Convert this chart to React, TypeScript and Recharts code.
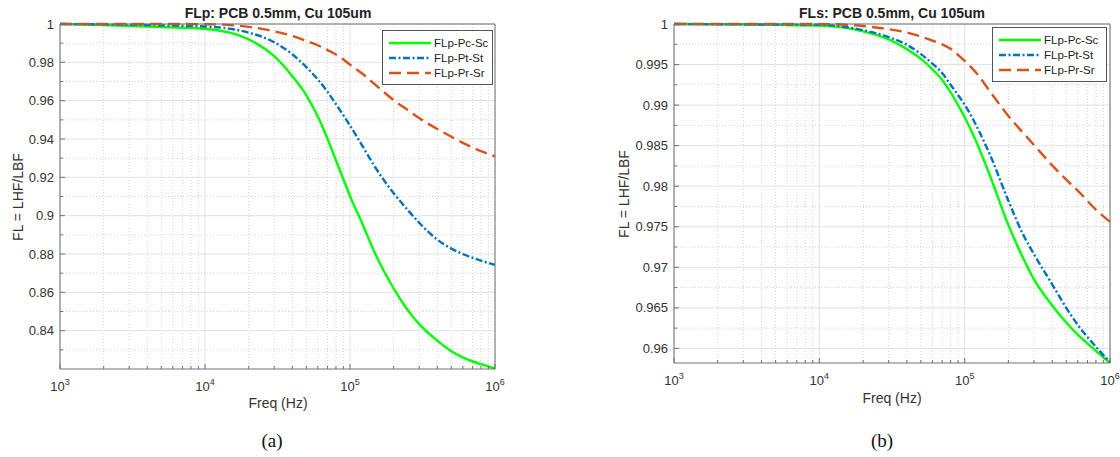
import React from "react";
import { LineChart, Line, XAxis, YAxis, CartesianGrid, Legend } from "recharts";

// frequency grid (Hz), shared by both panels
const FREQ = [
  1e3, 2e3, 5e3, 1e4, 2e4, 3e4, 4e4, 5e4, 6e4, 7e4, 8e4, 9e4, 1e5, 1.2e5, 1.5e5, 2e5, 2.5e5, 3e5, 4e5,
  5e5, 6e5, 8e5, 1e6,
];

// panel (a) FLp
const A_PC_SC = [
  1.0, 0.9994, 0.9984, 0.9975, 0.992, 0.9832, 0.9728, 0.9628, 0.9517, 0.94, 0.9289, 0.919, 0.9102,
  0.8968, 0.8797, 0.862, 0.8508, 0.8434, 0.8348, 0.8293, 0.8261, 0.8225, 0.8203,
];
const A_PT_ST = [
  1.0, 0.9998, 0.9993, 0.9987, 0.9955, 0.9905, 0.9842, 0.9775, 0.971, 0.9646, 0.9582, 0.9524, 0.947,
  0.9372, 0.925, 0.9117, 0.903, 0.8963, 0.8875, 0.8828, 0.88, 0.8765, 0.8743,
];
const A_PR_SR = [
  1.0, 1.0, 1.0, 0.9999, 0.9985, 0.9962, 0.9938, 0.9912, 0.9889, 0.9864, 0.9841, 0.9815, 0.9788,
  0.9744, 0.9682, 0.9603, 0.9551, 0.9509, 0.9452, 0.9412, 0.938, 0.9337, 0.931,
];

// panel (b) FLs
const B_PC_SC = [
  1.0, 0.99997, 0.9999, 0.9998, 0.9991, 0.9981, 0.9969, 0.9957, 0.9944, 0.9931, 0.9916, 0.99, 0.9885,
  0.9855, 0.9812, 0.9752, 0.9713, 0.9685, 0.9653, 0.9632, 0.9617, 0.9597, 0.9582,
];
const B_PT_ST = [
  1.0, 0.99997, 0.99993, 0.9999, 0.99924, 0.99838, 0.99744, 0.99629, 0.99511, 0.99395, 0.99251,
  0.99125, 0.99005, 0.9875, 0.9838, 0.9782, 0.9742, 0.9716, 0.9679, 0.965, 0.9629, 0.9602, 0.9583,
];
const B_PR_SR = [
  1.0, 1.0, 1.0, 1.0, 0.99975, 0.99936, 0.99896, 0.99845, 0.99795, 0.99748, 0.99695, 0.99618, 0.99545,
  0.99398, 0.99164, 0.98865, 0.98666, 0.98508, 0.98257, 0.98081, 0.97945, 0.97711, 0.9756,
];

// ticks
const X_MAJOR = [1e3, 1e4, 1e5, 1e6];
const X_MINOR = [1e3, 1e4, 1e5].flatMap((d) => [2, 3, 4, 5, 6, 7, 8, 9].map((m) => m * d));
const X_ALL = [...X_MAJOR, ...X_MINOR].sort((a, b) => a - b);

const A_Y_MAJOR = [0.84, 0.86, 0.88, 0.9, 0.92, 0.94, 0.96, 0.98, 1];
const A_Y_MINOR = [0.83, 0.85, 0.87, 0.89, 0.91, 0.93, 0.95, 0.97, 0.99];
const B_Y_MAJOR = [0.96, 0.965, 0.97, 0.975, 0.98, 0.985, 0.99, 0.995, 1];
const B_Y_MINOR = [0.9625, 0.9675, 0.9725, 0.9775, 0.9825, 0.9875, 0.9925, 0.9975];

const SERIES = [
  { key: "pc", name: "FLp-Pc-Sc", color: "#00ff00", dash: undefined as string | undefined },
  { key: "pt", name: "FLp-Pt-St", color: "#0072bd", dash: "7 2.5 2 2.5" },
  { key: "pr", name: "FLp-Pr-Sr", color: "#d95319", dash: "12 6" },
];

const FONT = '"Liberation Sans", Arial, Helvetica, sans-serif';
const TEXT = "#333";
const AXIS = "#707070";
const LINE_W = 2.4;

const rows = (pc: number[], pt: number[], pr: number[]) =>
  FREQ.map((f, i) => ({ f, pc: pc[i], pt: pt[i], pr: pr[i] }));

const isIn = (arr: number[], v: number) => arr.some((a) => Math.abs(a - v) < 1e-9);

// inward MATLAB-style tick marks (axes have tickSize 0 and tickMargin 0, so x/y sit on the axis line)
function BottomTick(p: any) {
  const major = isIn(X_MAJOR, p.payload.value);
  return (
    <g>
      <line x1={p.x} x2={p.x} y1={p.y} y2={p.y - (major ? 5 : 3)} stroke={AXIS} />
      {major && (
        <text x={p.x} y={p.y + 22} textAnchor="middle" fill={TEXT} fontSize={13} fontFamily={FONT}>
          10
          <tspan dy={-6} fontSize={9}>
            {Math.round(Math.log10(p.payload.value))}
          </tspan>
        </text>
      )}
    </g>
  );
}

function TopTick(p: any) {
  const major = isIn(X_MAJOR, p.payload.value);
  return <line x1={p.x} x2={p.x} y1={p.y} y2={p.y + (major ? 5 : 3)} stroke={AXIS} />;
}

function makeLeftTick(majors: number[]) {
  return (p: any) => {
    const major = isIn(majors, p.payload.value);
    return (
      <g>
        <line x1={p.x} x2={p.x + (major ? 5 : 3)} y1={p.y} y2={p.y} stroke={AXIS} />
        {major && (
          <text x={p.x - 6} y={p.y} dy="0.35em" textAnchor="end" fill={TEXT} fontSize={13} fontFamily={FONT}>
            {String(p.payload.value)}
          </text>
        )}
      </g>
    );
  };
}

function makeRightTick(majors: number[]) {
  return (p: any) => {
    const major = isIn(majors, p.payload.value);
    return <line x1={p.x} x2={p.x - (major ? 5 : 3)} y1={p.y} y2={p.y} stroke={AXIS} />;
  };
}

function LegendBox({ width }: { width: number }) {
  return (
    <div
      style={{
        boxSizing: "border-box",
        width,
        border: "1px solid #555",
        background: "#fff",
        padding: "4px 0 4px 6px",
        fontFamily: FONT,
        fontSize: 11.5,
        color: "#222",
      }}
    >
      {SERIES.map((s) => (
        <div key={s.key} style={{ display: "flex", alignItems: "center", height: 15 }}>
          <svg width={42} height={6} style={{ display: "block" }}>
            <line x1={0} x2={42} y1={3} y2={3} stroke={s.color} strokeWidth={LINE_W} strokeDasharray={s.dash} />
          </svg>
          <span style={{ marginLeft: 3, whiteSpace: "nowrap" }}>{s.name}</span>
        </div>
      ))}
    </div>
  );
}

type PanelProps = {
  left: number;
  data: any[];
  margin: { top: number; right: number; bottom: number; left: number };
  yDomain: [number, number];
  yMajor: number[];
  yMinor: number[];
  legend: { left: number; top: number; width: number };
};

function Panel({ left, data, margin, yDomain, yMajor, yMinor, legend }: PanelProps) {
  const yAll = [...yMinor, ...yMajor].sort((a, b) => a - b);
  // axes are 1px thick, so shrink the margins by 1 on every side
  const m = { top: margin.top - 1, right: margin.right - 1, bottom: margin.bottom - 1, left: margin.left - 1 };
  return (
    <div style={{ position: "absolute", left, top: 0 }}>
      <LineChart width={560} height={457} data={data} margin={m}>
        <CartesianGrid verticalValues={X_MINOR} horizontalValues={yMinor} stroke="#d2d2d2" strokeDasharray="1 2" />
        <CartesianGrid verticalValues={X_MAJOR} horizontalValues={yMajor} stroke="#e2e2e2" />
        <XAxis
          dataKey="f"
          type="number"
          scale="log"
          domain={[1e3, 1e6]}
          ticks={X_ALL}
          interval={0}
          height={1}
          tickSize={0}
          tickMargin={0}
          tickLine={false}
          axisLine={{ stroke: AXIS }}
          tick={(p: any) => <BottomTick {...p} />}
        />
        <XAxis
          xAxisId="top"
          orientation="top"
          type="number"
          scale="log"
          domain={[1e3, 1e6]}
          ticks={X_ALL}
          interval={0}
          height={1}
          tickSize={0}
          tickMargin={0}
          tickLine={false}
          axisLine={{ stroke: AXIS }}
          tick={(p: any) => <TopTick {...p} />}
        />
        <YAxis
          type="number"
          domain={yDomain}
          ticks={yAll}
          interval={0}
          width={1}
          tickSize={0}
          tickMargin={0}
          tickLine={false}
          axisLine={{ stroke: AXIS }}
          tick={makeLeftTick(yMajor)}
        />
        <YAxis
          yAxisId="right"
          orientation="right"
          type="number"
          domain={yDomain}
          ticks={yAll}
          interval={0}
          width={1}
          tickSize={0}
          tickMargin={0}
          tickLine={false}
          axisLine={{ stroke: AXIS }}
          tick={makeRightTick(yMajor)}
        />
        <Legend
          layout="vertical"
          align="center"
          verticalAlign="middle"
          wrapperStyle={{ left: legend.left, top: legend.top, width: legend.width }}
          content={() => <LegendBox width={legend.width} />}
        />
        {SERIES.map((s) => (
          <Line
            key={s.key}
            type="monotone"
            dataKey={s.key}
            name={s.name}
            stroke={s.color}
            strokeWidth={LINE_W}
            strokeDasharray={s.dash}
            dot={false}
            activeDot={false}
            isAnimationActive={false}
          />
        ))}
      </LineChart>
    </div>
  );
}

function Text({ x, y, children, style }: { x: number; y: number; children: React.ReactNode; style?: React.CSSProperties }) {
  return (
    <div
      style={{
        position: "absolute",
        left: x,
        top: y,
        transform: "translate(-50%, -50%)",
        whiteSpace: "nowrap",
        fontFamily: FONT,
        fontSize: 14,
        color: TEXT,
        lineHeight: 1,
        ...style,
      }}
    >
      {children}
    </div>
  );
}

export default function App() {
  const dataA = rows(A_PC_SC, A_PT_ST, A_PR_SR);
  const dataB = rows(B_PC_SC, B_PT_ST, B_PR_SR);
  return (
    <div style={{ position: "absolute", left: 0, top: 0, width: 1120, height: 457, background: "#fff", overflow: "hidden" }}>
      <Panel
        left={0}
        data={dataA}
        margin={{ top: 24, right: 65, bottom: 88, left: 60 }}
        yDomain={[0.82, 1]}
        yMajor={A_Y_MAJOR}
        yMinor={A_Y_MINOR}
        legend={{ left: 382, top: 30, width: 111 }}
      />
      <Panel
        left={560}
        data={dataB}
        margin={{ top: 24, right: 10, bottom: 94, left: 114 }}
        yDomain={[0.9582, 1]}
        yMajor={B_Y_MAJOR}
        yMinor={B_Y_MINOR}
        legend={{ left: 432, top: 27, width: 115 }}
      />

      <Text x={278} y={12.5} style={{ fontWeight: "bold", color: "#222" }}>FLp: PCB 0.5mm, Cu 105um</Text>
      <Text x={892} y={12.5} style={{ fontWeight: "bold", color: "#222" }}>FLs: PCB 0.5mm, Cu 105um</Text>

      <Text x={17.5} y={196.5} style={{ transform: "translate(-50%, -50%) rotate(-90deg)" }}>FL = LHF/LBF</Text>
      <Text x={624} y={193.5} style={{ transform: "translate(-50%, -50%) rotate(-90deg)" }}>FL = LHF/LBF</Text>

      <Text x={278} y={403}>Freq (Hz)</Text>
      <Text x={892} y={398}>Freq (Hz)</Text>

      <Text x={272} y={440} style={{ fontFamily: '"Liberation Serif", "DejaVu Serif", serif', fontSize: 19, color: "#111" }}>(a)</Text>
      <Text x={882} y={440} style={{ fontFamily: '"Liberation Serif", "DejaVu Serif", serif', fontSize: 19, color: "#111" }}>(b)</Text>
    </div>
  );
}
